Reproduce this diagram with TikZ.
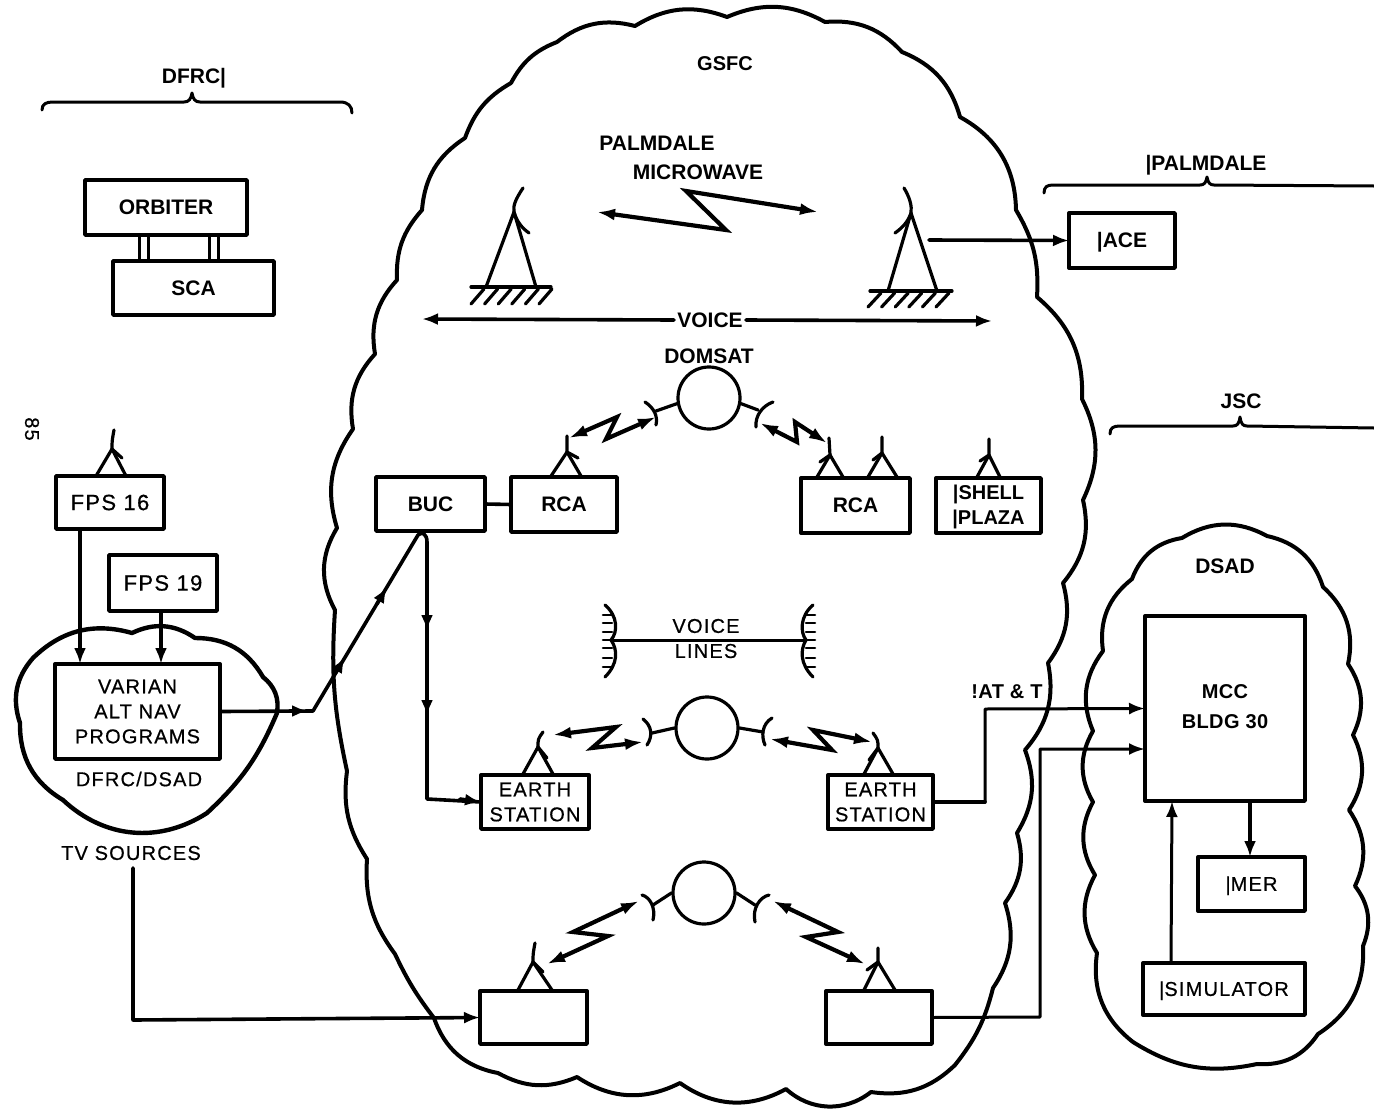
\documentclass[tikz,border=0pt]{standalone}
\usepackage{fontspec}
\setmainfont{Liberation Sans}
\newfontfamily\lab[LetterSpace=6,FakeBold=0.6]{Liberation Sans}
\newfontfamily\labb[LetterSpace=2]{Liberation Sans}
\usetikzlibrary{arrows.meta}
\newcommand{\vb}{\smash{\textbar}}
\tikzset{
  ink/.style={line width=#1,draw=black,line cap=round,line join=round},
  cloudline/.style={ink=4pt,every to/.style={bend left=26}},
  box/.style={draw=black,line width=3.4pt,inner sep=0pt,outer sep=0pt,align=center,line join=round},
  bold21/.style={font=\fontsize{21}{25}\selectfont\bfseries,inner sep=0pt},
  reg20/.style={font=\fontsize{20}{25}\selectfont\lab,inner sep=0pt},
  conn/.style={ink=3.6pt},
  connthin/.style={ink=3pt},
  tip/.style={-{Latex[length=16pt,width=12pt]}},
  twotip/.style={{Latex[length=18pt,width=12pt]}-{Latex[length=18pt,width=12pt]}},
  zig/.style={ink=4.2pt,line join=miter},
  ant/.style={ink=3.2pt},
}
\newcommand{\sant}[9]{%
  \draw[ant] (#3,#5) -- (#1,#2) -- (#4,#5);
  \draw[ant] (#6,#7) .. controls (#1,#2-8) .. (#1,#2) -- (#8,#9);
}
\begin{document}
\begin{tikzpicture}[x=1pt,y=-1pt]
\useasboundingbox (0,0) rectangle (1374,1111);
% clouds
\draw[cloudline] (635,26) to (727,17) to (825,22) to (902,52) to (960,117) to[bend left=30] (1016,210) to[bend left=17] (1037,297) to (1082,399) to (1083,500) to (1063,583) to (1048,663) to (1025,750) to (1017,833) to (1005,903) to (993,988) to[bend left=12] (955,1065) to (871,1092) to[bend left=40] (786,1089) to[bend left=32] (680,1083) to[bend left=30] (577,1077) to (498,1073) to[bend left=30] (434,1018) to[bend left=6] (395,954) to[bend left=20] (367,859) to[bend left=20] (347,771) to[bend left=8] (335,610) to[bend left=30] (337,528) to (353,429) to (375,354) to (397,280) to[bend left=22] (422,210) to (465,138) to[bend left=20] (511,83) to[bend left=20] (557,42) to (635,26);
\draw[cloudline,every to/.style={bend left=30}] (1182,538) to (1267,536) to (1323,587) to (1348,664) to (1353,735) to (1349,810) to (1355,886) to (1363,946) to (1318,1034) to (1257,1064) to[bend left=22] (1133,1042) to (1097,953) to (1095,875) to (1093,802) to (1093,731) to (1103,651) to (1132,579) to (1182,538);
\draw[cloudline,line width=4.4pt,every to/.style={bend left=30}] (132,633) to (195,638) to (263,677) to (277,713) to[bend left=12] (207,813) to[bend left=38] (63,800) to (20,723) to (33,658) to (132,633);
% braces
\draw[ink=3pt] (42,110) .. controls (42,104) and (46,102) .. (53,102) -- (184,102) .. controls (189,102) and (191,99) .. (192,93) .. controls (193,99) and (195,102) .. (200,102) -- (340,102) .. controls (348,102) and (352,106) .. (352,113);
\draw[ink=3pt] (1044,193) .. controls (1044,187) and (1047,185) .. (1053,185) -- (1200,185) .. controls (1204,185) and (1206,183) .. (1207,177) .. controls (1208,183) and (1210,185) .. (1214,185) -- (1374,186);
\draw[ink=3pt] (1110,434) .. controls (1110,428) and (1113,426) .. (1120,426) -- (1233,426) .. controls (1237,426) and (1239,424) .. (1240,417) .. controls (1241,424) and (1243,426) .. (1247,426) -- (1374,428);
% boxes
\node[box,minimum width=162pt,minimum height=55pt,bold21] (orbiter) at (166,207.5) {ORBITER};
\node[box,minimum width=161pt,minimum height=54pt,bold21] (sca) at (193.5,288) {SCA};
\node[box,minimum width=108pt,minimum height=53pt,reg20,font=\fontsize{22}{25}\selectfont\lab] (fps16) at (110,502.5) {FPS 16};
\node[box,minimum width=108pt,minimum height=56pt,reg20,font=\fontsize{22}{25}\selectfont\lab] (fps19) at (163,583) {FPS 19};
\node[box,minimum width=165pt,minimum height=95pt,reg20] (varian) at (137.5,711.5) {VARIAN\\ALT NAV\\PROGRAMS};
\node[box,minimum width=109pt,minimum height=54pt,bold21] (buc) at (430.5,504) {BUC};
\node[box,minimum width=106pt,minimum height=55pt,bold21] (rca1) at (564,504.5) {RCA};
\node[box,minimum width=109pt,minimum height=55pt,bold21] (rca2) at (855.5,505.5) {RCA};
\node[box,minimum width=105pt,minimum height=55pt,bold21,font=\fontsize{20}{25}\selectfont\bfseries] (shell) at (988.5,505.5) {\vb SHELL\\\vb PLAZA};
\node[box,minimum width=108pt,minimum height=54pt,reg20] (earth1) at (535,802) {EARTH\\STATION};
\node[box,minimum width=105pt,minimum height=54pt,reg20] (earth2) at (880.5,802) {EARTH\\STATION};
\node[box,minimum width=107pt,minimum height=53pt] (blank1) at (533.5,1017.5) {};
\node[box,minimum width=106pt,minimum height=53pt] (blank2) at (879,1017.5) {};
\node[box,minimum width=106pt,minimum height=55pt,bold21] (ace) at (1122,240.5) {\vb ACE};
\node[box,minimum width=160pt,minimum height=185pt,reg20,font=\fontsize{20}{25}\selectfont\labb\bfseries] (mcc) at (1225,708.5) {\raisebox{3pt}{MCC}\\[5pt]\raisebox{3pt}{BLDG 30}};
\node[box,minimum width=107pt,minimum height=54pt,reg20] (mer) at (1251.5,884) {\vb MER};
\node[box,minimum width=162pt,minimum height=52pt,reg20] (sim) at (1224,989) {\vb SIMULATOR};
% satellites
\node[draw=black,line width=3.2pt,circle,minimum size=62pt,inner sep=0pt] (sat1) at (709,398) {};
\node[draw=black,line width=3.2pt,circle,minimum size=62pt,inner sep=0pt] (sat2) at (707,728) {};
\node[draw=black,line width=3.2pt,circle,minimum size=62pt,inner sep=0pt] (sat3) at (704,893) {};
% labels
\node[bold21] (tdfrc) at (194,76) {DFRC\vb};
\node[bold21,font=\fontsize{20}{24}\selectfont\bfseries] (tgsfc) at (725,64) {GSFC};
\node[bold21] (tpalm) at (657,143) {PALMDALE};
\node[bold21] (tmicro) at (698,172) {MICROWAVE};
\node[bold21] (tpalm2) at (1206,163) {\vb PALMDALE};
\node[bold21] (tjsc) at (1241,401) {JSC};
\node[bold21] (tdomsat) at (709,356) {DOMSAT};
\node[bold21] (tdsad) at (1225,566) {DSAD};
\node[bold21] (tvoice) at (710,320) {VOICE};
\node[reg20,font=\fontsize{20}{24}\selectfont\labb\bfseries] (tatt) at (1007,692) {!AT \& T};
\node[reg20] (tdfrcd) at (139,779) {DFRC/DSAD};
\node[reg20] (ttv) at (131,853) {TV SOURCES};
\node[reg20] (t85) at (32,429) [rotate=-90] {85};
\node[reg20] (tvl1) at (706,626) {VOICE};
\node[reg20] (tvl2) at (706,651) {LINES};
% struts
\draw[ink=3pt] ([xshift=-27pt]orbiter.south) -- ([xshift=-54.5pt]sca.north);
\draw[ink=3pt] ([xshift=-18pt]orbiter.south) -- ([xshift=-45.5pt]sca.north);
\draw[ink=3pt] ([xshift=43pt]orbiter.south) -- ([xshift=15.5pt]sca.north);
\draw[ink=3pt] ([xshift=52pt]orbiter.south) -- ([xshift=24.5pt]sca.north);
% tall antennas
\coordinate (ta1) at (514,212); \coordinate (ta2) at (911,213);
\draw[ant] (486,287) -- (ta1) -- (536,287);
\draw[ant] (523,188) .. controls (515,200) and (513,206) .. (ta1) .. controls (517,222) and (522,228) .. (529,233);
\draw[ant] (471,287) -- (551,287);
\foreach \i in {0,...,5} \draw[ant] (484+13.6*\i,289) -- (471+13.6*\i,304);
\draw[ant] (888,291) -- (ta2) -- (937,291);
\draw[ant] (904,188) .. controls (910,198) and (912,206) .. (ta2) .. controls (908,222) and (902,228) .. (895,233);
\draw[ant] (870,291) -- (952,291);
\foreach \i in {0,...,5} \draw[ant] (881+13.6*\i,293) -- (868+13.6*\i,307);
% small antennas
\sant{112}{449}{96}{126}{476}{114}{430}{122}{458}
\sant{567}{452}{551}{581}{476}{567}{436}{578}{458}
\sant{830}{455}{817}{843}{477}{829}{438}{820}{462}
\sant{882}{453}{868}{897}{477}{882}{437}{873}{460}
\sant{989}{455}{977}{1000}{477}{989}{439}{980}{461}
\sant{538}{747}{523}{553}{774}{543}{732}{547}{758}
\sant{878}{748}{864}{893}{774}{873}{733}{869}{760}
\sant{533}{962}{518}{552}{990}{535}{943}{543}{972}
\sant{878}{962}{864}{895}{990}{878}{948}{867}{970}
% satellite feeds and dishes
\draw[ant] (sat1.190) -- (656,411);
\draw[ant] (645,402) .. controls (654,408) and (658,416) .. (656,425);
\draw[ant] (sat1.-10) -- (758,410);
\draw[ant] (773,402) .. controls (762,406) and (755,416) .. (756,427);
\draw[ant] (sat2.180) -- (652,733);
\draw[ant] (643,719) .. controls (652,726) and (653,736) .. (647,745);
\draw[ant] (sat2.0) -- (763,732);
\draw[ant] (772,718) .. controls (762,724) and (761,736) .. (765,745);
\draw[ant] (sat3.180) -- (653,905);
\draw[ant] (642,895) .. controls (650,897) and (656,908) .. (653,920);
\draw[ant] (sat3.0) -- (755,905);
\draw[ant] (769,895) .. controls (760,897) and (752,908) .. (755,922);
% zigzags
\draw[zig,twotip] (597,212) -- (726,230) -- (686,191) -- (818,212);
\draw[zig,twotip] (656,417) -- (606,439) -- (617,417) -- (569,438);
\draw[zig,twotip] (760,423) -- (797,442) -- (795,422) -- (827,443);
\draw[zig,twotip] (553,735) -- (616,727) -- (592,748) -- (643,742);
\draw[zig,twotip] (770,739) -- (832,750) -- (813,730) -- (872,742);
\draw[zig,twotip] (639,901) -- (573,932) -- (608,936) -- (547,964);
\draw[zig,twotip] (773,901) -- (838,932) -- (806,937) -- (865,964);
% voice
\draw[conn,tip] (tvoice.west) ++(-3,0) -- (422,319);
\draw[conn,tip] (tvoice.east) ++(3,0) -- (992,321);
% voice lines
\coordinate (vlL) at (611,640); \coordinate (vlR) at (806,640);
\draw[connthin] (vlL) -- (vlR);
\draw[ant] (605,605) .. controls (618,616) and (618,632) .. (vlL) .. controls (618,650) and (618,664) .. (605,677);
\draw[ant] (813,605) .. controls (800,616) and (800,632) .. (vlR) .. controls (800,650) and (800,664) .. (813,677);
\foreach \y in {615,623,632,640,648,658,667} {\draw[ink=2.6pt] (603,\y) -- (612,\y); \draw[ink=2.6pt] (806,\y) -- (815,\y);}
% connectors
\coordinate (b1) at (313,711);
\coordinate (b2) at (427,799);
\draw[conn] (buc.east) -- (rca1.west);
\draw[conn] (varian.east) -- (b1) -- (418,535) .. controls (422,531) and (427,534) .. (427,542) -- (b2) -- (earth1.west);
\draw[conn,tip] (290,711) -- (308,711);
\draw[conn,tip] (335,674) -- (345,657);
\draw[conn,tip] (377,604) -- (387,587);
\draw[conn,tip] (427,610) -- (427,631);
\draw[conn,tip] (427,696) -- (427,716);
\draw[conn,tip] (460,799) -- (earth1.west);
\draw[conn,tip] ([xshift=-30pt]fps16.south) -- ([xshift=-57.5pt]varian.north);
\draw[conn,tip] ([xshift=-2pt]fps19.south) -- ([xshift=23.5pt]varian.north);
\draw[conn,tip] (929,240) -- (ace.west);
\draw[conn] (earth2.east) -- (985,802);
\draw[connthin,tip] (985,802) -- (985,709) -- ([yshift=.5pt]mcc.west |- 0,709);
\draw[connthin,tip] (blank2.east) -- (1040,1017) -- (1040,749) -- (mcc.west |- 0,749);
\draw[conn,tip] (133,868) -- (133,1020) -- (blank1.west);
\draw[connthin,tip] ([xshift=-53pt]sim.north) -- ([xshift=-53pt]mcc.south);
\draw[conn,tip] ([xshift=-1.5pt]mer.north |- mcc.south) -- ([xshift=-1.5pt]mer.north);
\end{tikzpicture}
\end{document}
